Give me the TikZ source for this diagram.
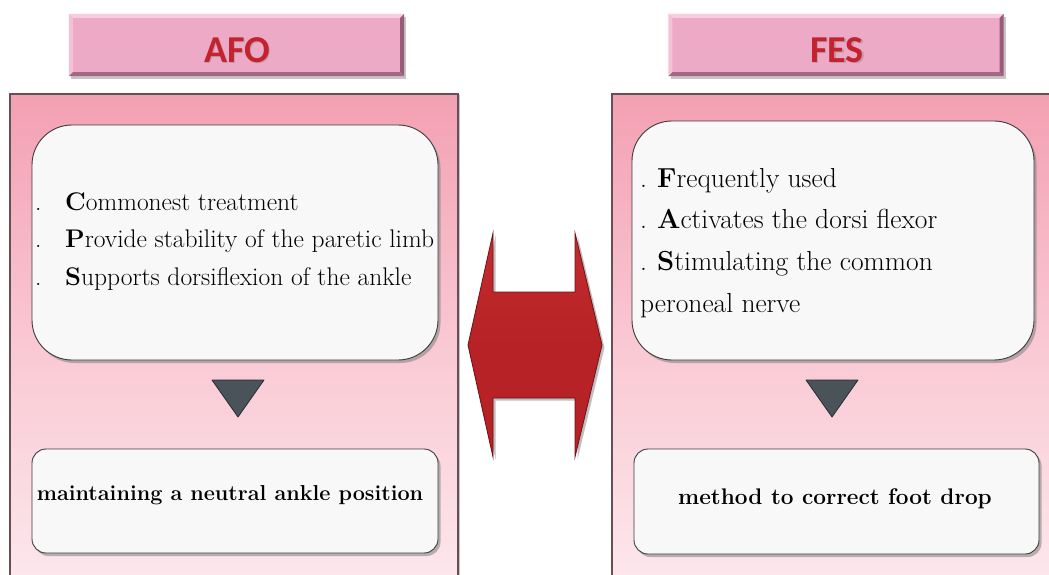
\documentclass[tikz,border=0pt]{standalone}
\usepackage{fontspec}
\newfontfamily\titlefont{Carlito}
\usetikzlibrary{shadows,calc}

\definecolor{titlepink}{RGB}{237,170,198}
\definecolor{titlelight}{RGB}{247,204,222}
\definecolor{titledark}{RGB}{150,92,120}
\definecolor{paneltop}{RGB}{243,160,178}
\definecolor{panelmid}{RGB}{249,200,211}
\definecolor{panelbot}{RGB}{253,233,238}
\definecolor{paneledge}{RGB}{105,78,86}
\definecolor{boxfill}{RGB}{248,248,248}
\definecolor{boxedge}{RGB}{60,60,60}
\definecolor{trigray}{RGB}{74,82,90}
\definecolor{tredge}{RGB}{40,44,48}
\definecolor{arrowred}{RGB}{182,34,38}
\definecolor{arrowlight}{RGB}{196,44,46}
\definecolor{arrowdark}{RGB}{110,16,20}
\definecolor{titlered}{RGB}{196,34,46}

\tikzset{
  panel/.style={draw=paneledge, line width=1.2pt, top color=paneltop,
    bottom color=panelbot, middle color=panelmid, minimum width=448,
    minimum height=500, inner sep=0pt,
    drop shadow={opacity=0.45, shadow xshift=2pt, shadow yshift=-1pt}},
  titlebox/.style={fill=titlepink, minimum width=335, minimum height=62,
    inner sep=0pt,
    drop shadow={opacity=0.45, shadow xshift=2pt, shadow yshift=-2.5pt}},
  infobox/.style={draw=boxedge, line width=0.9pt, fill=boxfill, inner sep=0pt,
    drop shadow={opacity=0.55, shadow xshift=2.5pt, shadow yshift=-3pt}},
  bigbox/.style={infobox, rounded corners=40pt},
  smallbox/.style={infobox, rounded corners=14pt},
  titletext/.style={text=titlered, inner sep=0pt,
    font=\titlefont\bfseries\fontsize{38}{40}\selectfont},
  bodyL/.style={inner sep=0pt, text=black, font=\fontsize{25.5}{30}\selectfont},
  bodyR/.style={inner sep=0pt, text=black, font=\fontsize{27.5}{32}\selectfont},
  resultL/.style={inner sep=0pt, text=black,
    font=\bfseries\fontsize{21.6}{26}\selectfont},
  resultR/.style={inner sep=0pt, text=black,
    font=\bfseries\fontsize{22.6}{27}\selectfont},
  downtri/.style={fill=trigray, draw=tredge, line width=0.8pt, line join=round},
  bigarrow/.style={top color=arrowlight, bottom color=arrowred,
    middle color=arrowred, draw=arrowdark, line width=0.8pt,
    drop shadow={opacity=0.5, shadow xshift=2.5pt, shadow yshift=-2.5pt}}
}

% bevelled edges of a title box
\newcommand{\bevelbox}[1]{%
  \fill[titlelight] (#1.north west) -- (#1.north east)
    -- ($(#1.north east)+(-4,4)$) -- ($(#1.north west)+(4,4)$) -- cycle;
  \fill[titlelight!70!titlepink] (#1.north west) -- ($(#1.north west)+(4,4)$)
    -- ($(#1.south west)+(4,-4)$) -- (#1.south west) -- cycle;
  \fill[titledark] (#1.north east) -- (#1.south east)
    -- ($(#1.south east)+(-4,-4)$) -- ($(#1.north east)+(-4,4)$) -- cycle;
  \fill[titledark!85!titlepink] (#1.south west) -- (#1.south east)
    -- ($(#1.south east)+(-4,-4)$) -- ($(#1.south west)+(4,-4)$) -- cycle;
}

\begin{document}
\begin{tikzpicture}[x=1pt,y=-1pt]
\useasboundingbox (0,0) rectangle (1049,574);
\clip (0,0) rectangle (1049,574);
\fill[white] (0,0) rectangle (1049,574);

% the two side panels
\node[panel] (panelL) at (234,344) {};
\node[panel] (panelR) at (836,344) {};

% AFO column
\node[bigbox, minimum width=406, minimum height=235] (boxL) at (235,242.5) {};
\node[bodyL, anchor=base west] (l1) at (35,210) {\makebox[30pt][l]{.}\textbf{C}ommonest treatment};
\node[bodyL, anchor=base west] (l2) at (35,247.5) {\makebox[30pt][l]{.}\textbf{P}rovide stability of the paretic limb};
\node[bodyL, anchor=base west] (l3) at (35,285) {\makebox[30pt][l]{.}\textbf{S}upports dorsiflexion of the ankle};
\coordinate (triLa) at (212,380);
\coordinate (triLb) at (264,380);
\coordinate (triLc) at (238,417);
\draw[downtri] (triLa) -- (triLb) -- (triLc) -- cycle;
\node[smallbox, minimum width=406, minimum height=104] (resL) at (235,501) {};
\node[resultL, anchor=base] (resLt) at (230,500) {maintaining a neutral ankle position};

% FES column
\node[bigbox, minimum width=402, minimum height=239] (boxR) at (833,240.5) {};
\node[bodyR, anchor=base west] (r1) at (640,187) {\makebox[17pt][l]{.}\textbf{F}requently used};
\node[bodyR, anchor=base west] (r2) at (640,228) {\makebox[17pt][l]{.}\textbf{A}ctivates the dorsi flexor};
\node[bodyR, anchor=base west] (r3) at (640,270) {\makebox[17pt][l]{.}\textbf{S}timulating the common};
\node[bodyR, anchor=base west] (r4) at (640,312) {peroneal nerve};
\coordinate (triRa) at (806,380);
\coordinate (triRb) at (858,380);
\coordinate (triRc) at (832,417);
\draw[downtri] (triRa) -- (triRb) -- (triRc) -- cycle;
\node[smallbox, minimum width=405, minimum height=105] (resR) at (836.5,501.5) {};
\node[resultR, anchor=base] (resRt) at (835,504) {method to correct foot drop};

% title boxes
\node[titlebox] (titleL) at (236.5,45) {};
\bevelbox{titleL}
\node[titletext, anchor=base, text=black!45, opacity=0.5] at (238.5,63.5) {AFO};
\node[titletext, anchor=base] (titleLt) at (237,62) {AFO};

\node[titlebox] (titleR) at (836,45) {};
\bevelbox{titleR}
\node[titletext, anchor=base, text=black!45, opacity=0.5] at (838.5,63.5) {FES};
\node[titletext, anchor=base] (titleRt) at (837,62) {FES};

% double-headed arrow between the columns
\draw[bigarrow] (468,345) -- (493,233) -- (493,292) -- (575,292) -- (575,233)
  -- (602,345) -- (575,457) -- (575,398) -- (493,398) -- (493,457) -- cycle;
\end{tikzpicture}
\end{document}
